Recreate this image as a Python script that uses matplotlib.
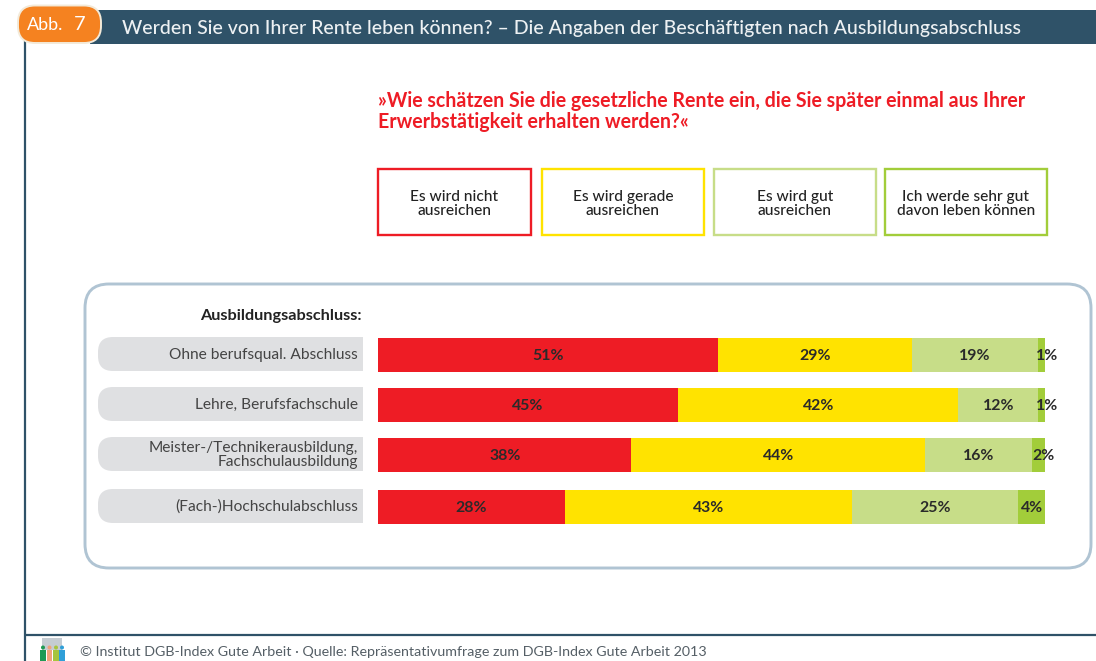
import matplotlib
matplotlib.use("Agg")
import matplotlib.pyplot as plt
from matplotlib.patches import FancyBboxPatch, Rectangle, Circle

W, H = 1096, 661
FONT = "Lato"
plt.rcParams["font.family"] = [FONT, "DejaVu Sans"]

categories = ["Ohne berufsqual. Abschluss", "Lehre, Berufsfachschule",
              "Meister-/Technikerausbildung,\nFachschulausbildung", "(Fach-)Hochschulabschluss"]
nicht = [51, 45, 38, 28]
gerade = [29, 42, 44, 43]
gut = [19, 12, 16, 25]
sehr_gut = [1, 1, 2, 4]
series_labels = ["Es wird nicht\nausreichen", "Es wird gerade\nausreichen",
                 "Es wird gut\nausreichen", "Ich werde sehr gut\ndavon leben können"]

RED, YEL, LGR, DGR = "#ee1c25", "#ffe300", "#c7dd88", "#a2cd3a"
NAVY = "#2f5268"
row_centres = [355, 405, 455, 507]

fig = plt.figure(figsize=(W / 100, H / 100), dpi=100, facecolor="white")
bg = fig.add_axes([0, 0, 1, 1])
bg.set_xlim(0, W); bg.set_ylim(H, 0); bg.axis("off")

# frame
bg.plot([24.5, 24.5], [40, 661], color=NAVY, lw=1.6, solid_capstyle="butt")
bg.plot([24, W], [634.5, 634.5], color=NAVY, lw=1.6, solid_capstyle="butt")
# header
bg.add_patch(Rectangle((90, 10), W - 90, 34, fc=NAVY, ec="none"))
bg.add_patch(FancyBboxPatch((18, 5.5), 83, 37.5, boxstyle="round,pad=0,rounding_size=17",
                            fc="#f58220", ec="#f3ead9", lw=1.4, zorder=3))
bg.text(27, 24.5, "Abb.", color="white", fontsize=13, va="center", ha="left", zorder=4)
bg.text(74, 24.5, "7", color="white", fontsize=14.5, va="center", ha="left", zorder=4)
bg.text(122, 28.5, "Werden Sie von Ihrer Rente leben können? – Die Angaben der Beschäftigten nach Ausbildungsabschluss",
        color="#edf1f3", fontsize=14.05, fontweight="medium", va="center", ha="left")

# question
bg.text(378, 101, "»Wie schätzen Sie die gesetzliche Rente ein, die Sie später einmal aus Ihrer",
        color=RED, fontsize=14.05, fontweight="bold", va="center")
bg.text(378, 122, "Erwerbstätigkeit erhalten werden?«",
        color=RED, fontsize=14.05, fontweight="bold", va="center")

# legend
legend_boxes = [(378, 531, RED), (542, 704, YEL), (714, 876, LGR), (885, 1047, DGR)]
for (x0, x1, c), lab in zip(legend_boxes, series_labels):
    bg.add_patch(Rectangle((x0, 169), x1 - x0, 66, fc="white", ec=c, lw=1.7))
    bg.text((x0 + x1) / 2, 204, lab, color="#222222", fontsize=11.2, ha="center", va="center",
            linespacing=1.0, fontweight="medium")

# panel
bg.add_patch(FancyBboxPatch((85, 284), 1006, 284, boxstyle="round,pad=0,rounding_size=24",
                            fc="white", ec="#b0c4d3", lw=2.1))
bg.text(362, 316, "Ausbildungsabschluss:", color="#222222", fontsize=11.7, fontweight="bold",
        ha="right", va="center")

# category pills
for yc, cat in zip(row_centres, categories):
    pill = FancyBboxPatch((98, yc - 18), 300, 34, boxstyle="round,pad=0,rounding_size=15",
                          fc="#dfe0e2", ec="none")
    bg.add_patch(pill)
    pill.set_clip_path(Rectangle((98, yc - 22), 265, 44, transform=bg.transData))
    bg.text(358, yc, cat, color="#444444", fontsize=11.2, ha="right", va="center", linespacing=1.0)

# bars
ax = fig.add_axes([378 / W, 1 - 530 / H, (1045 - 378) / W, (530 - 330) / H])
ax.patch.set_alpha(0)
ax.set_xlim(0, 100); ax.set_ylim(530, 330); ax.axis("off")
left = [0, 0, 0, 0]
for vals, col in [(nicht, RED), (gerade, YEL), (gut, LGR), (sehr_gut, DGR)]:
    ax.barh(row_centres, vals, left=left, height=34, color=col, edgecolor="none")
    for y, l, v in zip(row_centres, left, vals):
        ax.text(l + v / 2 + (0.75 if v < 4 else 0), y + 1, f"{v}%", color="#2a2a2a", fontsize=11.4,
                fontweight="bold", ha="center", va="center", clip_on=False)
    left = [a + b for a, b in zip(left, vals)]

# footer
bg.add_patch(Rectangle((42, 638), 20, 12, fc="#c5ccd2", ec="none", zorder=0))
icon_x = [43, 49.5, 56, 62]
for x, c in zip(icon_x, ["#1f9a55", "#f2a27a", "#a7c43c", "#2f9fd8"]):
    bg.add_patch(Rectangle((x - 2.8, 650), 5.6, 11, fc=c, ec="none"))
    bg.add_patch(Circle((x, 647.5), 2, fc=c, ec="none"))
bg.text(80, 652.5, "© Institut DGB-Index Gute Arbeit · Quelle: Repräsentativumfrage zum DGB-Index Gute Arbeit 2013",
        color="#555f66", fontsize=10.28, va="center", ha="left")

fig.savefig("out.png", dpi=100)
